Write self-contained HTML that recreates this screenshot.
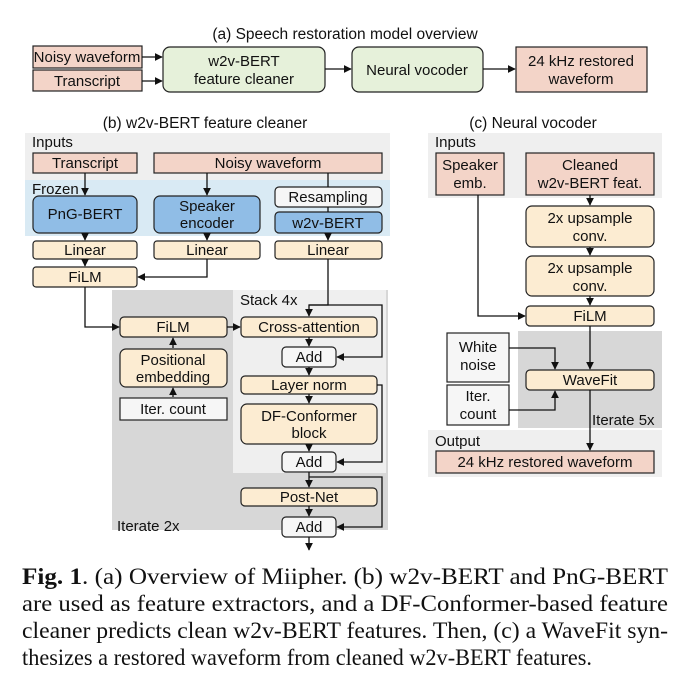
<!DOCTYPE html>
<html><head><meta charset="utf-8"><style>
html,body{margin:0;padding:0;background:#fff;}
svg{display:block;}
text{font-family:"Liberation Sans","DejaVu Sans",sans-serif;font-size:15px;fill:#111;}
.c{text-anchor:middle;}
.cap{font-family:"Liberation Serif",serif;font-size:23px;}
.p{fill:#f3d4c8;stroke:#222;stroke-width:1.2;}
.b{fill:#fcecd2;stroke:#222;stroke-width:1.2;}
.g{fill:#e6f1da;stroke:#222;stroke-width:1.2;}
.bl{fill:#90bde6;stroke:#222;stroke-width:1.2;}
.w{fill:#f6f6f6;stroke:#222;stroke-width:1.2;}
.l{stroke:#111;stroke-width:1.3;fill:none;}
</style></head><body>
<svg width="690" height="698" viewBox="0 0 690 698" xmlns="http://www.w3.org/2000/svg">
<defs><marker id="a" viewBox="0 0 10 10" refX="9" refY="5" markerWidth="6" markerHeight="6" orient="auto"><path d="M0,0L10,5L0,10z" fill="#111"/></marker></defs>

<!-- (a) -->
<text x="345" y="39" class="c" style="font-size:15.5px">(a) Speech restoration model overview</text>
<rect class="p" x="33" y="46" width="109" height="22"/><text x="87" y="62" class="c">Noisy waveform</text>
<rect class="p" x="33" y="70" width="109" height="21"/><text x="87" y="86" class="c">Transcript</text>
<rect class="g" x="163" y="47" width="162" height="45" rx="7"/><text x="244" y="66" class="c">w2v-BERT</text><text x="244" y="84" class="c">feature cleaner</text>
<rect class="g" x="352" y="47" width="131" height="45" rx="7"/><text x="417" y="75" class="c">Neural vocoder</text>
<rect class="p" x="516" y="47" width="131" height="45"/><text x="581" y="66" class="c">24 kHz restored</text><text x="581" y="84" class="c">waveform</text>
<g class="l" marker-end="url(#a)">
<path d="M142 57H162"/><path d="M142 81H162"/><path d="M325 69H351"/><path d="M483 69H515"/>
</g>

<!-- (b) -->
<text x="205" y="128" class="c" style="font-size:15.5px">(b) w2v-BERT feature cleaner</text>
<rect x="25" y="133" width="365" height="47" fill="#efefef"/>
<rect x="25" y="180" width="365" height="56" fill="#d9eaf4"/>
<text x="32" y="147">Inputs</text><text x="32" y="194">Frozen</text>
<rect class="p" x="33" y="153" width="104" height="20"/><text x="85" y="168" class="c">Transcript</text>
<rect class="p" x="154" y="153" width="228" height="20"/><text x="268" y="168" class="c">Noisy waveform</text>
<rect class="bl" x="33" y="196" width="104" height="37" rx="6"/><text x="85" y="219" class="c">PnG-BERT</text>
<rect class="bl" x="154" y="196" width="106" height="37" rx="6"/><text x="207" y="211" class="c">Speaker</text><text x="207" y="228" class="c">encoder</text>
<rect class="w" x="275" y="187" width="107" height="20" rx="4"/><text x="328" y="202" class="c">Resampling</text>
<rect class="bl" x="275" y="212" width="107" height="21" rx="4"/><text x="328" y="228" class="c">w2v-BERT</text>
<rect class="b" x="33" y="241" width="104" height="18" rx="3"/><text x="85" y="255" class="c">Linear</text>
<rect class="b" x="154" y="241" width="106" height="18" rx="3"/><text x="207" y="255" class="c">Linear</text>
<rect class="b" x="275" y="241" width="107" height="18" rx="3"/><text x="328" y="255" class="c">Linear</text>
<rect class="b" x="33" y="267" width="104" height="20" rx="3"/><text x="85" y="282" class="c">FiLM</text>
<path class="l" d="M328 173V187M328 207V212"/>

<rect x="112" y="290" width="276" height="240" fill="#d7d7d7"/>
<rect x="233" y="290" width="153" height="183" fill="#efefef"/>
<text x="240" y="305">Stack 4x</text><text x="117" y="531">Iterate 2x</text>
<rect class="b" x="120" y="317" width="107" height="20" rx="4"/><text x="173" y="332" class="c">FiLM</text>
<rect class="b" x="120" y="349" width="107" height="38" rx="6"/><text x="173" y="365" class="c">Positional</text><text x="173" y="382" class="c">embedding</text>
<rect class="w" x="120" y="398" width="107" height="22"/><text x="173" y="414" class="c">Iter. count</text>
<rect class="b" x="241" y="317" width="136" height="20" rx="4"/><text x="309" y="332" class="c">Cross-attention</text>
<rect class="w" x="282" y="347" width="54" height="20" rx="4"/><text x="309" y="362" class="c">Add</text>
<rect class="b" x="241" y="376" width="136" height="18" rx="4"/><text x="309" y="390" class="c">Layer norm</text>
<rect class="b" x="241" y="404" width="136" height="40" rx="6"/><text x="309" y="421" class="c">DF-Conformer</text><text x="309" y="438" class="c">block</text>
<rect class="w" x="282" y="452" width="54" height="20" rx="4"/><text x="309" y="467" class="c">Add</text>
<rect class="b" x="241" y="488" width="136" height="18" rx="4"/><text x="309" y="502" class="c">Post-Net</text>
<rect class="w" x="282" y="517" width="54" height="20" rx="4"/><text x="309" y="532" class="c">Add</text>
<g class="l" marker-end="url(#a)">
<path d="M85 173V195"/><path d="M207 173V195"/><path d="M85 233V240"/><path d="M207 233V240"/><path d="M328 233V240"/><path d="M85 259V266"/>
<path d="M207 259V277H138"/>
<path d="M85 287V327H119"/><path d="M227 327H240"/><path d="M173 348V338"/><path d="M173 397V388"/>
<path d="M309 337V346"/><path d="M309 367V375"/><path d="M309 394V403"/><path d="M309 444V451"/><path d="M309 472V487"/><path d="M309 506V516"/><path d="M309 537V550"/>
<path d="M328 259V305H309V316"/>
<path d="M309 305H382V357H337"/>
<path d="M377 385H382V462H337"/>
<path d="M309 477H382V527H337"/>
</g>

<!-- (c) -->
<text x="533" y="128" class="c" style="font-size:15.5px">(c) Neural vocoder</text>
<rect x="428" y="133" width="234" height="65" fill="#efefef"/>
<text x="435" y="147">Inputs</text>
<rect class="p" x="436" y="153" width="68" height="42"/><text x="470" y="170" class="c">Speaker</text><text x="470" y="188" class="c">emb.</text>
<rect class="p" x="526" y="153" width="128" height="42"/><text x="590" y="170" class="c">Cleaned</text><text x="590" y="188" class="c">w2v-BERT feat.</text>
<rect class="b" x="526" y="206" width="128" height="41" rx="6"/><text x="590" y="223" class="c">2x upsample</text><text x="590" y="241" class="c">conv.</text>
<rect class="b" x="526" y="256" width="128" height="40" rx="6"/><text x="590" y="273" class="c">2x upsample</text><text x="590" y="291" class="c">conv.</text>
<rect class="b" x="526" y="306" width="128" height="20" rx="4"/><text x="590" y="321" class="c">FiLM</text>
<rect x="518" y="331" width="144" height="97" fill="#d7d7d7"/>
<rect class="w" x="447" y="333" width="62" height="49"/><text x="478" y="352" class="c">White</text><text x="478" y="370" class="c">noise</text>
<rect class="w" x="447" y="385" width="62" height="40"/><text x="478" y="401" class="c">Iter.</text><text x="478" y="419" class="c">count</text>
<rect class="b" x="526" y="370" width="128" height="20" rx="4"/><text x="590" y="385" class="c">WaveFit</text>
<text x="592" y="425">Iterate 5x</text>
<rect x="428" y="430" width="234" height="47" fill="#efefef"/>
<text x="435" y="446">Output</text>
<rect class="p" x="436" y="451" width="218" height="22"/><text x="545" y="467" class="c">24 kHz restored waveform</text>
<g class="l" marker-end="url(#a)">
<path d="M590 195V205"/><path d="M590 247V255"/><path d="M590 296V305"/><path d="M478 195V316H525"/><path d="M590 326V369"/><path d="M509 348H555V369"/><path d="M509 410H555V391"/><path d="M590 390V450"/>
</g>

<!-- caption -->
<text class="cap" x="22" y="584" textLength="646" lengthAdjust="spacingAndGlyphs"><tspan font-weight="bold">Fig. 1</tspan>.  (a) Overview of Miipher.  (b) w2v-BERT and PnG-BERT</text>
<text class="cap" x="22" y="611" textLength="646" lengthAdjust="spacingAndGlyphs">are used as feature extractors, and a DF-Conformer-based feature</text>
<text class="cap" x="22" y="638" textLength="646" lengthAdjust="spacingAndGlyphs">cleaner predicts clean w2v-BERT features. Then, (c) a WaveFit syn-</text>
<text class="cap" x="22" y="665" textLength="570" lengthAdjust="spacingAndGlyphs">thesizes a restored waveform from cleaned w2v-BERT features.</text>
</svg>
</body></html>
